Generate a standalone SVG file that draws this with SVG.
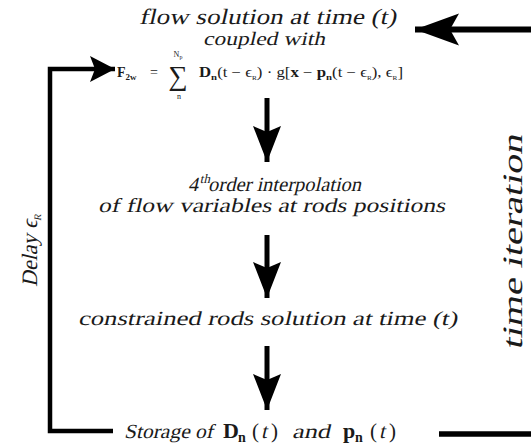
<svg xmlns="http://www.w3.org/2000/svg" width="531" height="446" viewBox="0 0 531 446">
<style>
.t{font-family:"Liberation Serif","DejaVu Serif",serif;font-style:normal;fill:#1a1a1a}
.m{font-family:"Liberation Serif","DejaVu Serif",serif;font-style:normal;fill:#1a1a1a}
.b{font-weight:bold}
.c{fill:none;stroke:#000;stroke-linejoin:miter;stroke-linecap:butt}
</style>
<defs>
<marker id="aBig" markerUnits="userSpaceOnUse" viewBox="0 -17 45 34" markerWidth="45" markerHeight="34" refX="44" refY="0" orient="auto"><path d="M0,-16 L44,0 L0,16 L9,0 Z" fill="#000"/></marker>
<marker id="aMid" markerUnits="userSpaceOnUse" viewBox="0 -15 37 30" markerWidth="37" markerHeight="30" refX="36" refY="0" orient="auto"><path d="M0,-14 L36,0 L0,14 L6,0 Z" fill="#000"/></marker>
<marker id="aSml" markerUnits="userSpaceOnUse" viewBox="0 -14 26 28" markerWidth="26" markerHeight="28" refX="25" refY="0" orient="auto"><path d="M0,-13 L25,0 L0,13 L5,0 Z" fill="#000"/></marker>
</defs>
<rect width="531" height="446" fill="#fff"/>
<g id="connectors">
<path class="c" d="M531,29.5 H415" stroke-width="6" marker-end="url(#aBig)"/>
<path class="c" d="M113,431 H50 V69 H115" stroke-width="4.5" marker-end="url(#aSml)"/>
<path class="c" d="M439,434 H531" stroke-width="5.5"/>
<path class="c" d="M267,98 V162" stroke-width="5" marker-end="url(#aMid)"/>
<path class="c" d="M267,235 V298" stroke-width="5" marker-end="url(#aMid)"/>
<path class="c" d="M267,346 V410" stroke-width="5" marker-end="url(#aMid)"/>
</g>
<g id="flow-solution">
<text class="t" transform="translate(139,24) skewX(-13)" font-size="22" textLength="257" lengthAdjust="spacingAndGlyphs">flow solution at time (t)</text>
<text class="t" transform="translate(203,45) skewX(-13)" font-size="19" textLength="122" lengthAdjust="spacingAndGlyphs">coupled with</text>
<text class="m" x="117" y="77" font-size="14"><tspan class="b">F</tspan><tspan class="b" font-size="9" dy="3">2w</tspan><tspan dy="-3" x="150">=</tspan></text>
<text class="m" x="178" y="85" font-size="27" text-anchor="middle">∑</text>
<text class="m" x="178" y="57" font-size="8" text-anchor="middle">N<tspan font-size="6" dy="2">p</tspan></text>
<text class="m" x="179" y="99" font-size="8" text-anchor="middle">n</text>
<text class="m" x="199" y="77" font-size="14" textLength="204" lengthAdjust="spacingAndGlyphs"><tspan class="b">D</tspan><tspan class="b" font-size="9" dy="3">n</tspan><tspan dy="-3">(t − ϵ</tspan><tspan font-size="6" dy="3">R</tspan><tspan dy="-3">) · g[</tspan><tspan class="b">x</tspan> − <tspan class="b">p</tspan><tspan class="b" font-size="9" dy="3">n</tspan><tspan dy="-3">(t − ϵ</tspan><tspan font-size="6" dy="3">R</tspan><tspan dy="-3">), ϵ</tspan><tspan font-size="6" dy="3">R</tspan><tspan dy="-3">]</tspan></text>
</g>
<g id="interpolation">
<text class="t" transform="translate(188,191) skewX(-13)" font-size="20">4<tspan font-size="13" dy="-8">th</tspan><tspan dy="8" textLength="153" lengthAdjust="spacingAndGlyphs">order interpolation</tspan></text>
<text class="t" transform="translate(98,212) skewX(-13)" font-size="20" textLength="347" lengthAdjust="spacingAndGlyphs">of flow variables at rods  positions</text>
</g>
<g id="rods-solution">
<text class="t" transform="translate(78,325) skewX(-13)" font-size="20" textLength="379" lengthAdjust="spacingAndGlyphs">constrained rods solution at time (t)</text>
</g>
<g id="storage">
<text class="t" transform="translate(124,438) skewX(-13)" font-size="20" textLength="89" lengthAdjust="spacingAndGlyphs">Storage of</text>
<text class="m b" x="223" y="438" font-size="22">D</text>
<text class="m b" x="238" y="442" font-size="14">n</text>
<text class="m" x="252" y="438" font-size="21">(</text>
<text class="t" transform="translate(261,438) skewX(-13)" font-size="21">t</text>
<text class="m" x="271" y="438" font-size="21">)</text>
<text class="t" transform="translate(292,438) skewX(-13)" font-size="20" textLength="38" lengthAdjust="spacingAndGlyphs">and</text>
<text class="m b" x="343" y="438" font-size="22">p</text>
<text class="m b" x="355" y="442" font-size="14">n</text>
<text class="m" x="370" y="438" font-size="21">(</text>
<text class="t" transform="translate(379,438) skewX(-13)" font-size="21">t</text>
<text class="m" x="389" y="438" font-size="21">)</text>
</g>
<g id="delay-label">
<text class="t" transform="translate(37,287) rotate(-90) skewX(-13)" font-size="22">Delay ϵ<tspan font-size="10" dy="4">R</tspan></text>
</g>
<g id="time-iteration-label">
<text class="t" transform="translate(522,350) rotate(-90) skewX(-13)" font-size="28" textLength="215" lengthAdjust="spacingAndGlyphs">time iteration</text>
</g>
</svg>
